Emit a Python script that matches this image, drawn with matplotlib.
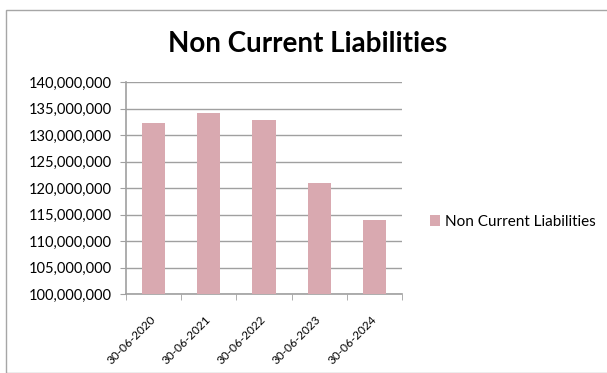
import matplotlib.pyplot as plt
from matplotlib.patches import Rectangle
from matplotlib.ticker import FuncFormatter, FixedLocator
import numpy as np

# Non current liabilities at each balance date
dates = ['30-06-2020', '30-06-2021', '30-06-2022', '30-06-2023', '30-06-2024']
liabilities = [132200000, 134100000, 132900000, 121000000, 114000000]
series_name = 'Non Current Liabilities'

plt.rcParams['font.family'] = ['Lato', 'DejaVu Sans']

W, H = 607, 373
fig = plt.figure(figsize=(W / 100, H / 100), dpi=100)

# chart frame
fig.patches.append(Rectangle((6 / W, 0), 1, 1 - 10 / H, transform=fig.transFigure,
                             fill=False, edgecolor='#a6a6a6', linewidth=1.0))

ax = fig.add_axes([126 / W, 1 - 294 / H, 276 / W, 212 / H])
x = np.arange(len(dates))
ax.bar(x, liabilities, width=0.42, color='#d9a9b0', label=series_name, zorder=3)

ax.set_xlim(-0.5, len(dates) - 0.5)
ax.set_ylim(100000000, 140000000)
ax.set_yticks(np.arange(100000000, 140000001, 5000000))
ax.yaxis.set_major_formatter(FuncFormatter(lambda v, p: f'{int(v):,}'))
ax.grid(axis='y', color='#a0a0a0', linewidth=1.0, zorder=0)

ax.set_xticks(x)
ax.set_xticklabels(dates, rotation=45, ha='right', va='center', rotation_mode='anchor')
ax.xaxis.set_minor_locator(FixedLocator(np.arange(-0.5, len(dates), 1)))
ax.tick_params(axis='x', which='major', length=0, pad=17, labelsize=8.5)
ax.tick_params(axis='x', which='minor', length=4, color='#a0a0a0')
ax.tick_params(axis='y', length=4, color='#a0a0a0', labelsize=10.5, pad=6)

for side in ['top', 'right']:
    ax.spines[side].set_visible(False)
for side in ['left', 'bottom']:
    ax.spines[side].set_color('#a0a0a0')
    ax.spines[side].set_linewidth(1.2)

fig.text(0.506, 1 - 44 / H, 'Non Current Liabilities', ha='center', va='center',
         fontsize=20, fontweight='bold')

ax.legend(loc='center left', bbox_to_anchor=(1.05, 0.34), frameon=False,
          handlelength=0.7, handleheight=0.7, handletextpad=0.3, fontsize=11)

fig.savefig('out.png', dpi=100)
